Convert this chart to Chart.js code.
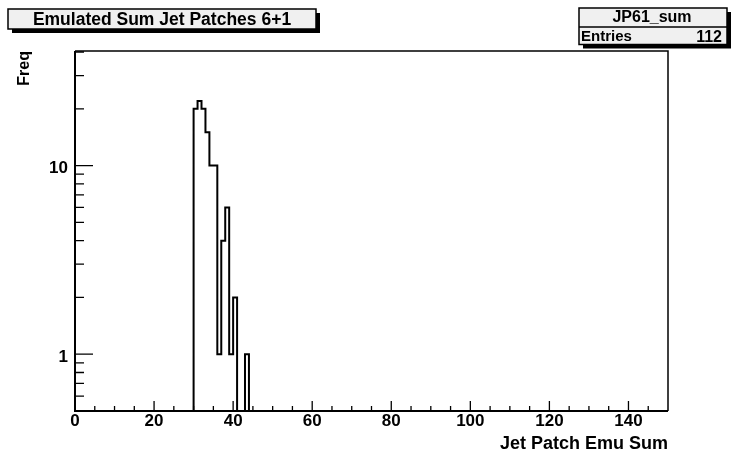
<!DOCTYPE html>
<html>
<head>
<meta charset="utf-8">
<script src="https://cdn.jsdelivr.net/npm/chart.js@4/dist/chart.umd.min.js"></script>
<style>
  html, body { margin: 0; padding: 0; background: #fff; }
  #wrap { width: 731px; height: 456px; }
</style>
</head>
<body>
<div id="wrap"><canvas id="hist" width="731" height="456"></canvas></div>
<script>
const histTitle = "Emulated Sum Jet Patches 6+1";
const histName = "JP61_sum";
const entries = 112;
const xTitle = "Jet Patch Emu Sum";
const yTitle = "Freq";

// bins of width 1, only the filled region (everything else is empty)
const binLowEdges = [30, 31, 32, 33, 34, 35, 36, 37, 38, 39, 40, 41, 42, 43];
const binCounts = [20, 22, 20, 15, 10, 10, 1, 4, 6, 1, 2, 0, 0, 1];
const binWidth = 1;

const xRange = [0, 150];
const yRange = [0.5, 40.5];
const xMajorTicks = [0, 20, 40, 60, 80, 100, 120, 140];
const xMinorTicks = [5, 10, 15, 25, 30, 35, 45, 50, 55, 65, 70, 75, 85, 90, 95, 105, 110, 115, 125, 130, 135, 145];
const yMajorTicks = [1, 10];
const yMinorTicks = [0.6, 0.7, 0.8, 0.9, 2, 3, 4, 5, 6, 7, 8, 9, 20, 30, 40];

const FONT = "'Liberation Sans', Arial, Helvetica, sans-serif";

// empty bins sit below the visible log range, so the outline drops to the axis
const emptyLevel = yRange[0] / 10;
const histPoints = [{ x: binLowEdges[0] - binWidth, y: emptyLevel }];
binLowEdges.forEach((edge, i) => {
  histPoints.push({ x: edge, y: binCounts[i] > 0 ? binCounts[i] : emptyLevel });
});
histPoints.push({ x: binLowEdges[binLowEdges.length - 1] + binWidth, y: emptyLevel });

function shadowBox(ctx, x0, y0, x1, y1) {
  ctx.fillStyle = "#000";
  ctx.fillRect(x0 + 4, y0 + 4, x1 - x0, y1 - y0);
  ctx.fillStyle = "#f0f0f0";
  ctx.fillRect(x0, y0, x1 - x0, y1 - y0);
  ctx.strokeStyle = "#000";
  ctx.lineWidth = 1.5;
  ctx.strokeRect(x0, y0, x1 - x0, y1 - y0);
}

const rootFrame = {
  id: "rootFrame",
  afterDatasetsDraw(chart) {
    const { ctx, chartArea: a, scales } = chart;
    const xs = scales.x;
    const ys = scales.y;
    ctx.save();
    ctx.strokeStyle = "#000";

    // top / right frame
    ctx.lineWidth = 1.5;
    ctx.beginPath();
    ctx.moveTo(a.left, a.top);
    ctx.lineTo(a.right, a.top);
    ctx.lineTo(a.right, a.bottom);
    ctx.stroke();

    // axes
    ctx.lineWidth = 2;
    ctx.beginPath();
    ctx.moveTo(a.left, a.top);
    ctx.lineTo(a.left, a.bottom);
    ctx.lineTo(a.right, a.bottom);
    ctx.stroke();

    // ticks point into the pad
    ctx.lineWidth = 1.3;
    ctx.beginPath();
    xMajorTicks.forEach((v) => {
      const px = xs.getPixelForValue(v);
      ctx.moveTo(px, a.bottom);
      ctx.lineTo(px, a.bottom - 10);
    });
    xMinorTicks.forEach((v) => {
      const px = xs.getPixelForValue(v);
      ctx.moveTo(px, a.bottom);
      ctx.lineTo(px, a.bottom - 5);
    });
    yMajorTicks.forEach((v) => {
      const py = ys.getPixelForValue(v);
      ctx.moveTo(a.left, py);
      ctx.lineTo(a.left + 18, py);
    });
    yMinorTicks.forEach((v) => {
      const py = ys.getPixelForValue(v);
      ctx.moveTo(a.left, py);
      ctx.lineTo(a.left + 9, py);
    });
    ctx.stroke();
    ctx.restore();
  },
  afterDraw(chart) {
    const { ctx } = chart;
    ctx.save();

    // title pave
    shadowBox(ctx, 8, 9, 316, 29);
    ctx.fillStyle = "#000";
    ctx.font = `bold 17.5px ${FONT}`;
    ctx.textAlign = "center";
    ctx.textBaseline = "middle";
    ctx.fillText(histTitle, 162, 20);

    // stats box
    shadowBox(ctx, 579, 8, 727, 44.5);
    ctx.beginPath();
    ctx.moveTo(579, 27);
    ctx.lineTo(727, 27);
    ctx.stroke();
    ctx.fillStyle = "#000";
    ctx.font = `bold 16px ${FONT}`;
    ctx.textAlign = "center";
    ctx.fillText(histName, 652, 18);
    ctx.font = `bold 15px ${FONT}`;
    ctx.textAlign = "left";
    ctx.fillText("Entries", 581, 36.5);
    ctx.font = `bold 16px ${FONT}`;
    ctx.textAlign = "right";
    ctx.fillText(String(entries), 722, 38);
    ctx.restore();
  },
};

new Chart(document.getElementById("hist"), {
  type: "line",
  data: {
    datasets: [
      {
        label: histName,
        data: histPoints,
        stepped: "before",
        borderColor: "#000",
        borderWidth: 2,
        pointRadius: 0,
        fill: false,
        tension: 0,
      },
    ],
  },
  options: {
    responsive: false,
    animation: false,
    devicePixelRatio: 1,
    layout: { padding: { left: 0, right: 63, top: 51, bottom: 0 } },
    plugins: { legend: { display: false }, tooltip: { enabled: false } },
    scales: {
      x: {
        type: "linear",
        min: xRange[0],
        max: xRange[1],
        afterBuildTicks: (s) => { s.ticks = xMajorTicks.map((v) => ({ value: v })); },
        afterFit: (s) => { s.height = 45; },
        grid: { display: false, drawTicks: false },
        border: { display: false },
        ticks: {
          color: "#000",
          font: { family: FONT, weight: "bold", size: 17 },
          padding: 0,
          maxRotation: 0,
          autoSkip: false,
          callback: (v) => String(v),
        },
        title: {
          display: true,
          text: xTitle,
          align: "end",
          color: "#000",
          font: { family: FONT, weight: "bold", size: 18, lineHeight: 1 },
          padding: { top: 0, bottom: 3 },
        },
      },
      y: {
        type: "logarithmic",
        min: yRange[0],
        max: yRange[1],
        afterBuildTicks: (s) => { s.ticks = yMajorTicks.map((v) => ({ value: v })); },
        afterFit: (s) => { s.width = 75; },
        grid: { display: false, drawTicks: false },
        border: { display: false },
        ticks: {
          color: "#000",
          font: { family: FONT, weight: "bold", size: 17 },
          padding: 7,
          labelOffset: 3,
          callback: (v) => String(v),
        },
        title: {
          display: true,
          text: yTitle,
          align: "end",
          color: "#000",
          font: { family: FONT, weight: "bold", size: 16, lineHeight: 1 },
          padding: { top: 17, bottom: 0 },
        },
      },
    },
  },
  plugins: [rootFrame],
});
</script>
</body>
</html>
